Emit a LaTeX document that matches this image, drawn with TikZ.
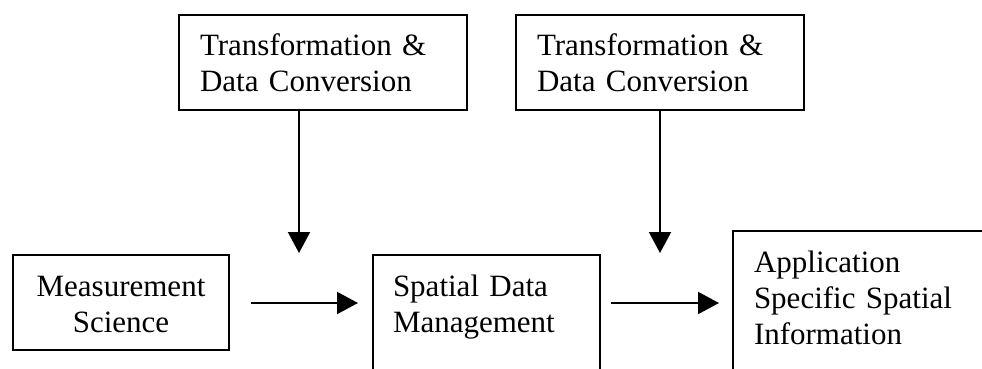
\documentclass[tikz,border=0pt]{standalone}
\usepackage{fontspec}
\setmainfont{Liberation Serif}
\usetikzlibrary{arrows.meta}
\begin{document}
\begin{tikzpicture}[x=1pt,y=-1pt,
  box/.style={draw=black,line width=2pt,anchor=north west,inner ysep=0pt,
    font=\fontsize{31}{36}\selectfont,align=left},
  arr/.style={line width=2pt,-{Triangle[width=22pt,length=21pt]}}]
\useasboundingbox (0,0) rectangle (982,369);
\clip (0,0) rectangle (982,369);
% top boxes
\node[box,inner xsep=21pt,text width=246pt] (t1) at (178,14)
  {\rule{0pt}{41pt}Transformation \&\\Data Conversion\rule[-18pt]{0pt}{0pt}};
\node[box,inner xsep=21pt,text width=246pt] (t2) at (515,14)
  {\rule{0pt}{41pt}Transformation \&\\Data Conversion\rule[-18pt]{0pt}{0pt}};
% bottom boxes
\node[box,inner xsep=0pt,text width=216pt,align=center] (ms) at (12,254)
  {\rule{0pt}{41pt}Measurement\\Science\rule[-18pt]{0pt}{0pt}};
\node[box,inner xsep=20pt,text width=187pt] (sd) at (372,254)
  {\rule{0pt}{41pt}Spatial Data\\Management\rule[-59pt]{0pt}{0pt}};
\node[box,inner xsep=21pt,text width=240pt] (as) at (732,230)
  {\rule{0pt}{41pt}Application\\Specific Spatial\\Information\rule[-47pt]{0pt}{0pt}};
% arrow end points
\coordinate (d1) at (299,253);
\coordinate (d2) at (660,253);
\coordinate (a1) at (251,303);
\coordinate (b1) at (358,303);
\coordinate (a2) at (611,303);
\coordinate (b2) at (719,303);
\draw[arr] (t1.south -| d1) -- (d1);
\draw[arr] (t2.south -| d2) -- (d2);
\draw[arr] (a1) -- (b1);
\draw[arr] (a2) -- (b2);
\end{tikzpicture}
\end{document}
